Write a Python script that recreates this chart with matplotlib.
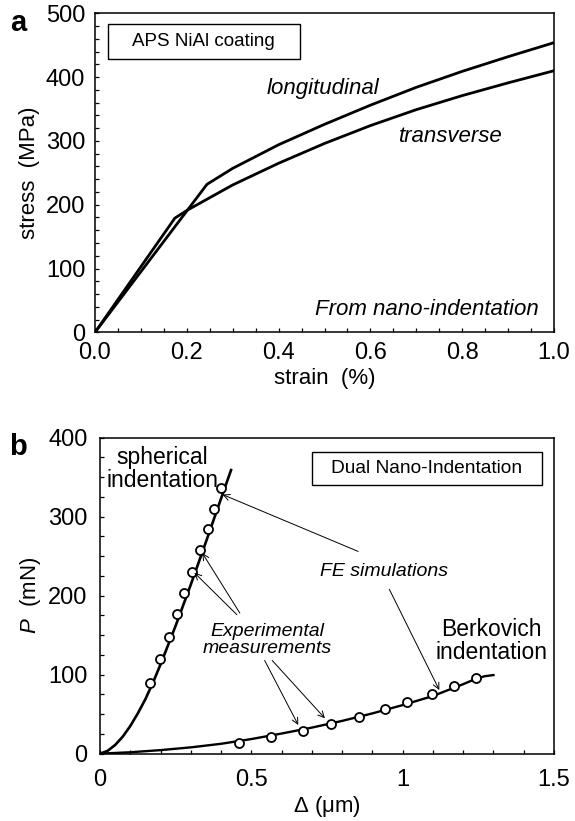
import matplotlib
matplotlib.use('Agg')
import matplotlib.pyplot as plt
from matplotlib.patches import Rectangle
from matplotlib.ticker import MultipleLocator

plt.rcParams['font.family'] = ['Liberation Sans', 'DejaVu Sans']
plt.rcParams['mathtext.fontset'] = 'custom'
plt.rcParams['mathtext.rm'] = 'Liberation Sans'
plt.rcParams['mathtext.it'] = 'Liberation Sans:italic'

# ---- panel a: stress-strain from nano-indentation ----
long_strain = [0, 0.244, 0.3, 0.4, 0.5, 0.6, 0.7, 0.8, 0.9, 1.0]
long_stress = [0, 232, 257, 294, 326, 356, 384, 409, 432, 454]
trans_strain = [0, 0.174, 0.2, 0.3, 0.4, 0.5, 0.6, 0.7, 0.8, 0.9, 1.0]
trans_stress = [0, 179, 191, 231, 265, 296, 324, 349, 371, 391, 410]

# ---- panel b: load-displacement ----
sph_fe_x = [0, 0.025, 0.05, 0.075, 0.1, 0.125, 0.15, 0.175, 0.2, 0.25, 0.3, 0.35, 0.4, 0.433]
sph_fe_y = [0, 3.5, 11, 21.5, 35, 51, 69, 90, 113, 162, 214, 268, 323, 359]
sph_exp_x = [0.165, 0.198, 0.228, 0.253, 0.279, 0.305, 0.331, 0.356, 0.378, 0.400]
sph_exp_y = [90, 119.5, 148, 176.4, 203, 230.4, 257.8, 284, 309.7, 336]

berk_fe_x = [0, 0.1, 0.2, 0.3, 0.4, 0.5, 0.6, 0.7, 0.8, 0.9, 1.0, 1.1, 1.2, 1.24, 1.27, 1.3]
berk_fe_y = [0, 1.8, 4.5, 8, 12.5, 18.5, 25.5, 33, 41.5, 51, 61.5, 73, 88, 94.5, 98, 99.5]
berk_exp_x = [0.459, 0.565, 0.67, 0.762, 0.855, 0.94, 1.015, 1.098, 1.168, 1.242]
berk_exp_y = [13, 21.5, 29, 37.5, 46.5, 56, 65.5, 75.5, 86, 96]

TICK_FS = 17
LABEL_FS = 16

fig = plt.figure(figsize=(5.75, 8.21), dpi=100)
ax1 = fig.add_axes([0.1652, 0.5952, 0.7983, 0.3886])
ax2 = fig.add_axes([0.1739, 0.0820, 0.7896, 0.3849])

for ax in (ax1, ax2):
    for s in ax.spines.values():
        s.set_linewidth(1.1)
    ax.tick_params(which='both', direction='in', top=False, right=False,
                   labelsize=TICK_FS, width=0.9)
    ax.tick_params(which='major', length=3.2)
    ax.tick_params(which='minor', length=2.6)

# ===== panel a =====
ax1.plot(long_strain, long_stress, color='black', lw=2.0, solid_joinstyle='miter')
ax1.plot(trans_strain, trans_stress, color='black', lw=2.0, solid_joinstyle='miter')
ax1.set_xlim(0, 1.0)
ax1.set_ylim(0, 500)
ax1.xaxis.set_major_locator(MultipleLocator(0.2))
ax1.xaxis.set_minor_locator(MultipleLocator(0.05))
ax1.yaxis.set_major_locator(MultipleLocator(100))
ax1.yaxis.set_minor_locator(MultipleLocator(20))
ax1.xaxis.set_major_formatter(plt.FormatStrFormatter('%.1f'))
ax1.tick_params(axis='x', pad=7)
ax1.tick_params(axis='y', pad=7)
ax1.set_xlabel('strain  (%)', fontsize=LABEL_FS, labelpad=3)
ax1.set_ylabel('stress  (MPa)', fontsize=LABEL_FS, labelpad=4)

ax1.add_patch(Rectangle((0.0288, 0.858), 0.417, 0.108, transform=ax1.transAxes,
                        fill=False, lw=1.0, ec='black'))
ax1.text(0.237, 0.912, 'APS NiAl coating', transform=ax1.transAxes,
         ha='center', va='center', fontsize=13.5)
ax1.text(0.496, 382, 'longitudinal', style='italic', fontsize=16,
         ha='center', va='center')
ax1.text(0.776, 307, 'transverse', style='italic', fontsize=16,
         ha='center', va='center')
ax1.text(0.722, 36, 'From nano-indentation', style='italic', fontsize=16,
         ha='center', va='center')

# ===== panel b =====
ax2.plot(sph_fe_x, sph_fe_y, color='black', lw=1.9)
ax2.plot(berk_fe_x, berk_fe_y, color='black', lw=1.7)
ax2.plot(sph_exp_x, sph_exp_y, 'o', ms=6.5, mfc='white', mec='black', mew=1.3)
ax2.plot(berk_exp_x, berk_exp_y, 'o', ms=6.5, mfc='white', mec='black', mew=1.3)
ax2.set_xlim(0, 1.5)
ax2.set_ylim(0, 400)
ax2.xaxis.set_major_locator(MultipleLocator(0.5))
ax2.xaxis.set_minor_locator(MultipleLocator(0.1))
ax2.yaxis.set_major_locator(MultipleLocator(100))
ax2.yaxis.set_minor_locator(MultipleLocator(25))
ax2.set_xticks([0, 0.5, 1, 1.5])
ax2.set_xticklabels(['0', '0.5', '1', '1.5'])
ax2.tick_params(axis='x', pad=11)
ax2.tick_params(axis='y', pad=9)
ax2.set_xlabel(r'$\it{Δ}$ (μm)', fontsize=LABEL_FS, labelpad=2)
ax2.set_ylabel(r'$\it{P}$  (mN)', fontsize=LABEL_FS, labelpad=4)

ax2.add_patch(Rectangle((0.466, 0.85), 0.508, 0.106, transform=ax2.transAxes,
                        fill=False, lw=1.0, ec='black'))
ax2.text(0.72, 0.903, 'Dual Nano-Indentation', transform=ax2.transAxes,
         ha='center', va='center', fontsize=13.8)
ax2.text(0.206, 360, 'spherical\nindentation', fontsize=16.5, ha='center',
         va='center', linespacing=1.0)
ax2.text(1.292, 142, 'Berkovich\nindentation', fontsize=16.5, ha='center',
         va='center', linespacing=1.0)
ax2.text(0.553, 144, 'Experimental\nmeasurements', style='italic', fontsize=14,
         ha='center', va='center', linespacing=1.05)
ax2.text(0.937, 231, 'FE simulations', style='italic', fontsize=14,
         ha='center', va='center')

arrow_kw = dict(arrowstyle='->', lw=0.7, color='black', shrinkA=0, shrinkB=0,
                mutation_scale=11)
arrows = [
    ((0.853, 256), (0.405, 328)),
    ((0.956, 208), (1.121, 80.6)),
    ((0.462, 178), (0.338, 254)),
    ((0.452, 176), (0.312, 229)),
    ((0.544, 118), (0.655, 36.3)),
    ((0.569, 118), (0.743, 44.8)),
]
for start, end in arrows:
    ax2.annotate('', xy=end, xytext=start, arrowprops=arrow_kw)

fig.text(18 / 575, 1 - 23 / 821, 'a', fontsize=21, fontweight='bold',
         ha='center', va='center')
fig.text(18 / 575, 1 - 447 / 821, 'b', fontsize=21, fontweight='bold',
         ha='center', va='center')

fig.savefig('out.png', dpi=100)
